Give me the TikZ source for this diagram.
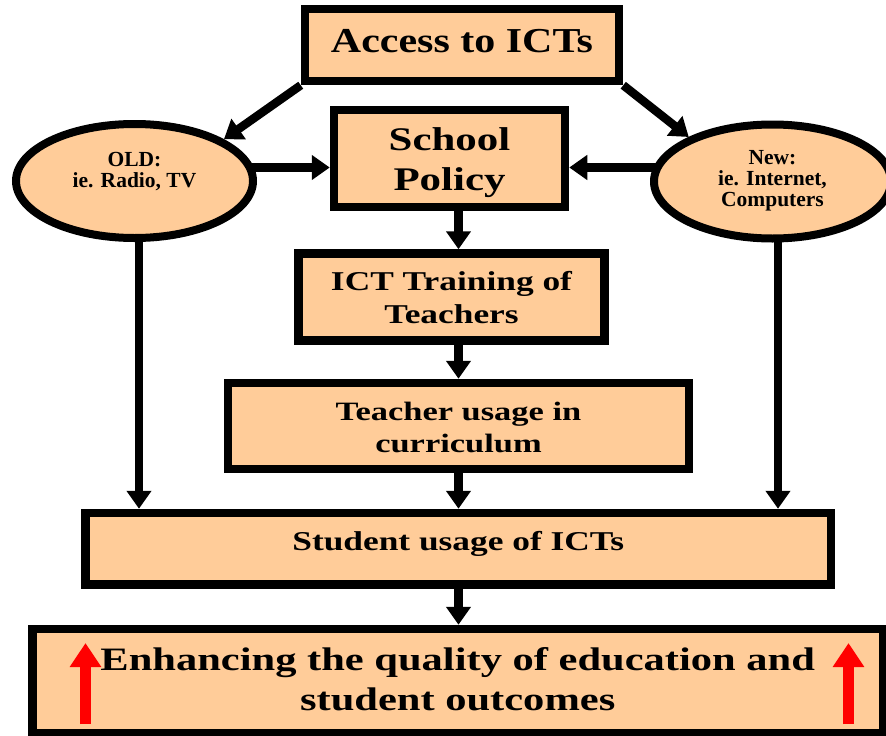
\documentclass[tikz,border=0pt]{standalone}
\usepackage{fontspec}
\setmainfont{Liberation Serif}
\newfontfamily\fA[FakeStretch=1.2]{Liberation Serif}
\newfontfamily\fB[FakeStretch=1.3]{Liberation Serif}
\usetikzlibrary{arrows.meta,shapes.geometric,calc,backgrounds}
\definecolor{peach}{RGB}{255,204,153}
\begin{document}
\begin{tikzpicture}[x=1pt,y=-1pt,
  box/.style={draw=black, line width=8.5pt, fill=peach, rectangle, inner sep=0pt, align=center},
  oval/.style={draw=black, line width=8pt, fill=peach, ellipse, inner sep=0pt, align=center,
    minimum width=237pt, minimum height=114pt, font=\bfseries\fontsize{21.5}{21}\selectfont},
  conn/.style={line width=8.5pt, -{Triangle[width=24pt,length=18pt]}},
  upar/.style={red, line width=11pt, -{Triangle[width=30pt,length=24pt]}}]
\useasboundingbox (0,0) rectangle (886,736);

\node[box, minimum width=314pt, minimum height=72pt, font=\fA\bfseries\fontsize{35}{40}\selectfont,
  text height=24pt, text depth=10pt] (access) at (462,45) {Access to ICTs};
\node[box, minimum width=231pt, minimum height=97pt, font=\fB\bfseries\fontsize{33}{40}\selectfont,
  text height=70pt, text depth=7pt] (school) at (449.5,158.5) {School\\Policy};
\node[box, minimum width=306pt, minimum height=87pt, font=\fB\bfseries\fontsize{27.2}{33}\selectfont,
  text height=56pt, text depth=4pt] (ict) at (451.5,297) {ICT Training of\\Teachers};
\node[box, minimum width=461pt, minimum height=86pt, font=\fB\bfseries\fontsize{26.5}{32}\selectfont,
  text height=56pt, text depth=4pt] (teacher) at (458.5,426) {Teacher usage in\\curriculum};
\node[box, minimum width=745.5pt, minimum height=71.5pt, font=\fB\bfseries\fontsize{27.2}{33}\selectfont,
  text height=20pt, text depth=17.5pt] (student) at (458.25,548.75) {Student usage of ICTs};
\node[box, minimum width=850.5pt, minimum height=104pt, font=\fB\bfseries\fontsize{32.7}{40}\selectfont,
  text height=64pt, text depth=6pt] (enh) at (457.75,681) {Enhancing the quality of education and\\student outcomes};
\node[oval, text height=36pt, text depth=24pt] (old) at (134.5,181) {OLD:\\ie. Radio, TV};
\node[oval, text height=56pt, text depth=5.6pt] (new) at (772.5,181.5) {New:\\ie. Internet,\\Computers};

\coordinate (oldfoot) at ($(old.center)+(4.5,0)$);
\coordinate (newfoot) at ($(new.center)+(5.5,0)$);

\begin{scope}[on background layer]
\draw[conn] (access.south west) -- (old.25);
\draw[conn] (access.south east) -- (new.152);
\draw[conn] ($(old.center)+(100,-13.5)$) -- ($(school.west)+(0,9)$);
\draw[conn] ($(new.center)+(-100,-14)$) -- ($(school.east)+(0,9)$);
\draw[conn] (school.south -| teacher.north) -- (ict.north -| teacher.north);
\draw[conn] (ict.south -| teacher.north) -- (teacher.north);
\draw[conn] (teacher.south) -- (student.north -| teacher.south);
\draw[conn] (student.south -| teacher.south) -- (enh.north -| teacher.south);
\draw[conn] (oldfoot) -- (oldfoot |- student.north);
\draw[conn] (newfoot) -- (newfoot |- student.north);
\end{scope}

\draw[upar] ($(enh.center)+(-372.25,43)$) -- ($(enh.center)+(-372.25,-38)$);
\draw[upar] ($(enh.center)+(390.75,43)$) -- ($(enh.center)+(390.75,-38)$);
\end{tikzpicture}
\end{document}
